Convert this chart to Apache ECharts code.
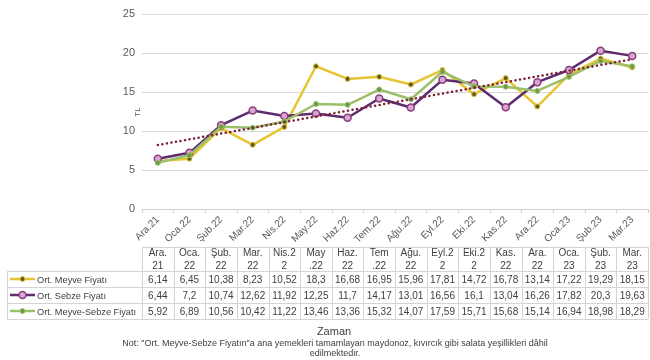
<!DOCTYPE html>
<html>
<head>
<meta charset="utf-8">
<script src="https://cdn.jsdelivr.net/npm/echarts@6/dist/echarts.min.js"></script>
<style>
html,body{margin:0;padding:0;background:#fff;}
#main{width:650px;height:360px;}
</style>
</head>
<body>
<div id="main"></div>
<script>
const categories = ["Ara.21","Oca.22","Şub.22","Mar.22","Nis.22","May.22","Haz.22","Tem.22","Ağu.22","Eyl.22","Eki.22","Kas.22","Ara.22","Oca.23","Şub.23","Mar.23"];
const headerLabels = ["Ara.\n21","Oca.\n22","Şub.\n22","Mar.\n22","Nis.2\n2","May\n.22","Haz.\n22","Tem\n.22","Ağu.\n22","Eyl.2\n2","Eki.2\n2","Kas.\n22","Ara.\n22","Oca.\n23","Şub.\n23","Mar.\n23"];
const meyve = [6.14, 6.45, 10.38, 8.23, 10.52, 18.3, 16.68, 16.95, 15.96, 17.81, 14.72, 16.78, 13.14, 17.22, 19.29, 18.15];
const sebze = [6.44, 7.2, 10.74, 12.62, 11.92, 12.25, 11.7, 14.17, 13.01, 16.56, 16.1, 13.04, 16.26, 17.82, 20.3, 19.63];
const meyveSebze = [5.92, 6.89, 10.56, 10.42, 11.22, 13.46, 13.36, 15.32, 14.07, 17.59, 15.71, 15.68, 15.14, 16.94, 18.98, 18.29];
const trendEnds = [8.2, 19.2];
const seriesNames = ["Ort. Meyve Fiyatı", "Ort. Sebze Fiyatı", "Ort. Meyve-Sebze Fiyatı"];
const yMin = 0, yMax = 25, yStep = 5;
const axisTitleY = "TL";
const axisTitleX = "Zaman";
const noteLines = ["Not: \"Ort. Meyve-Sebze Fiyatın\"a ana yemekleri tamamlayan maydonoz, kıvırcık gibi salata yeşillikleri dâhil", "edilmektedir."];

const FONT = "'Liberation Sans Narrow', 'Liberation Sans', sans-serif";
const TXT = '#404040';
const styles = [
  {line:'#E6C531', sym:'circle', size:5, fill:'#5d5a22', border:'#E6C531', bw:1},
  {line:'#5E2B6E', sym:'circle', size:7, fill:'#D9A6D0', border:'#8A3C7E', bw:1.5},
  {line:'#9CC06A', sym:'circle', size:5, fill:'#6f9a45', border:'#9CC06A', bw:1}
];
const dataSets = [meyve, sebze, meyveSebze];

const chart = echarts.init(document.getElementById('main'), null, {renderer:'canvas'});
const series = dataSets.map((d, k) => ({
  name: seriesNames[k], type:'line', data:d, z: 2 + k,
  symbol: styles[k].sym, symbolSize: styles[k].size, showSymbol:true,
  lineStyle:{color:styles[k].line, width:2.5},
  itemStyle:{color:styles[k].fill, borderColor:styles[k].border, borderWidth:styles[k].bw},
  emphasis:{disabled:true}
}));
series.push({
  type:'line', data:[], z: 10, silent:true,
  markLine:{
    silent:true, symbol:['none','none'], animation:false,
    label:{show:false},
    lineStyle:{color:'#7B1F35', width:2.5, type:[0.1,4.5], cap:'round'},
    data:[[{coord:[categories[0], trendEnds[0]]},{coord:[categories[categories.length-1], trendEnds[1]]}]]
  }
});

chart.setOption({
  animation:false,
  textStyle:{fontFamily:FONT},
  grid:{left:142, right:2, top:14, bottom:151},
  xAxis:{
    type:'category', data:categories, boundaryGap:true,
    axisLine:{lineStyle:{color:'#d0d0d0', width:1}},
    axisTick:{show:true, length:4, lineStyle:{color:'#d0d0d0'}},
    axisLabel:{rotate:45, fontSize:10, color:'#595959', fontFamily:FONT, margin:9, interval:0}
  },
  yAxis:{
    type:'value', min:yMin, max:yMax, interval:yStep,
    axisLine:{show:false}, axisTick:{show:false},
    axisLabel:{fontSize:11, color:'#595959', fontFamily:FONT, margin:7},
    splitLine:{lineStyle:{color:'#d9d9d9', width:1}}
  },
  series: series
});

function fmt(v){ return String(v).replace('.', ','); }

function buildTable(){
  const xs = categories.map((c,i)=> chart.convertToPixel({xAxisIndex:0}, c));
  const band = xs[1]-xs[0];
  const left = xs[0]-band/2, right = xs[xs.length-1]+band/2;
  const headTop = 247, headBottom = 271, rowH = 16, tableLeft = 7;
  const bottom = headBottom + rowH*dataSets.length;
  const BC = '#d4d4d4';
  const g = [];
  const hline = (x1,x2,y)=>g.push({type:'line', silent:true, shape:{x1,y1:y,x2,y2:y}, style:{stroke:BC, lineWidth:1}});
  const vline = (x,y1,y2)=>g.push({type:'line', silent:true, shape:{x1:x,y1,x2:x,y2}, style:{stroke:BC, lineWidth:1}});
  hline(left, right, headTop+0.5);
  for(let r=0;r<=dataSets.length;r++) hline(tableLeft, right, headBottom + r*rowH + 0.5);
  vline(tableLeft+0.5, headBottom, bottom);
  for(let k=0;k<=categories.length;k++) vline(Math.round(left + k*band)+0.5, headTop, bottom);
  headerLabels.forEach((h,i)=>g.push({type:'text', silent:true, x:xs[i], y:(headTop+headBottom)/2+1,
    style:{text:h, align:'center', verticalAlign:'middle', fontSize:10, lineHeight:13, fill:TXT, fontFamily:FONT}}));
  dataSets.forEach((d,r)=>{
    const cy = headBottom + r*rowH + rowH/2 + 1;
    d.forEach((v,i)=>g.push({type:'text', silent:true, x:xs[i], y:cy,
      style:{text:fmt(v), align:'center', verticalAlign:'middle', fontSize:10, fill:TXT, fontFamily:FONT}}));
    g.push({type:'line', silent:true, shape:{x1:10,y1:cy-1,x2:35,y2:cy-1}, style:{stroke:styles[r].line, lineWidth:2.5}});
    g.push({type:'circle', silent:true, shape:{cx:22.5, cy:cy-1, r:styles[r].size/2}, style:{fill:styles[r].fill, stroke:styles[r].border, lineWidth:styles[r].bw}});
    g.push({type:'text', silent:true, x:37, y:cy, style:{text:seriesNames[r], align:'left', verticalAlign:'middle', fontSize:9.2, fill:TXT, fontFamily:FONT}});
  });
  g.push({type:'text', silent:true, x:138, y:112, rotation:Math.PI/2,
    style:{text:axisTitleY, align:'center', verticalAlign:'middle', fontSize:8, fill:'#595959', fontFamily:FONT}});
  g.push({type:'text', silent:true, x:334, y:332, style:{text:axisTitleX, align:'center', verticalAlign:'middle', fontSize:11, fill:TXT, fontFamily:FONT}});
  noteLines.forEach((t,i)=>g.push({type:'text', silent:true, x:335, y:344+i*10, style:{text:t, align:'center', verticalAlign:'middle', fontSize:9, fill:TXT, fontFamily:FONT}}));
  chart.setOption({graphic:{elements:g}});
}
buildTable();
</script>
</body>
</html>
